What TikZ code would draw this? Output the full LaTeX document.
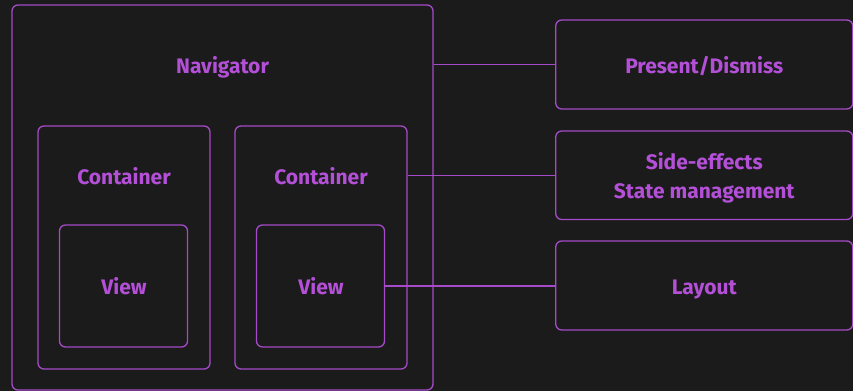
\documentclass[tikz,border=0pt]{standalone}
\usepackage{fontspec}
\setmainfont{Fira Sans}
\usetikzlibrary{positioning}

\definecolor{bgdark}{HTML}{1B1B1B}
\definecolor{navline}{HTML}{A64AC9}
\definecolor{navtext}{HTML}{B450D8}

\tikzset{
  box/.style={draw=navline, line width=0.65pt, rounded corners=3pt, inner sep=0pt},
  lbl/.style={text=navtext, font=\bfseries\fontsize{10.5}{14.5}\selectfont, align=center, anchor=base},
  link/.style={draw=navline, line width=0.6pt}
}

\begin{document}
\begin{tikzpicture}[x=0.5pt, y=-0.5pt]
  % background and fixed frame
  \fill[bgdark] (0,0) rectangle (853,391);
  \useasboundingbox (0,0) rectangle (853,391);

  % outer navigator box
  \node[box, minimum width=210.5pt, minimum height=192.5pt] (nav) at (222.5,197.5) {};
  \node[lbl] (navlbl) at (222.5,73) {Navigator};

  % two containers, each with a view inside
  \foreach \i/\x in {1/124, 2/321} {
    \node[box, minimum width=86pt, minimum height=121.5pt] (c\i) at (\x,247.5) {};
    \node[lbl] (clbl\i) at (\x,184.5) {Container};
    \node[box, minimum width=64pt, minimum height=61pt] (v\i) at (\x+-0.5,286) {};
    \node[lbl] (vlbl\i) at (\x,294.5) {View};
  }

  % boxes on the right
  \node[box, minimum width=148.5pt, minimum height=44.5pt] (pd) at (704.25,64.5) {};
  \node[lbl] (pdlbl) at (704.25,73) {Present/Dismiss};
  \node[box, minimum width=148.5pt, minimum height=44.25pt] (se) at (704.25,175.25) {};
  \node[lbl] (selbl) at (704.25,198.5) {Side-effects\\State management};
  \node[box, minimum width=148.5pt, minimum height=44.5pt] (lay) at (704.25,285.5) {};
  \node[lbl] (laylbl) at (704.25,294.5) {Layout};

  % connections
  \draw[link] (pd.west -| nav.east) -- (pd.west);
  \draw[link] (se.west -| c2.east) -- (se.west);
  \draw[link] (v2.east) -- (v2.east -| lay.west);
\end{tikzpicture}
\end{document}
